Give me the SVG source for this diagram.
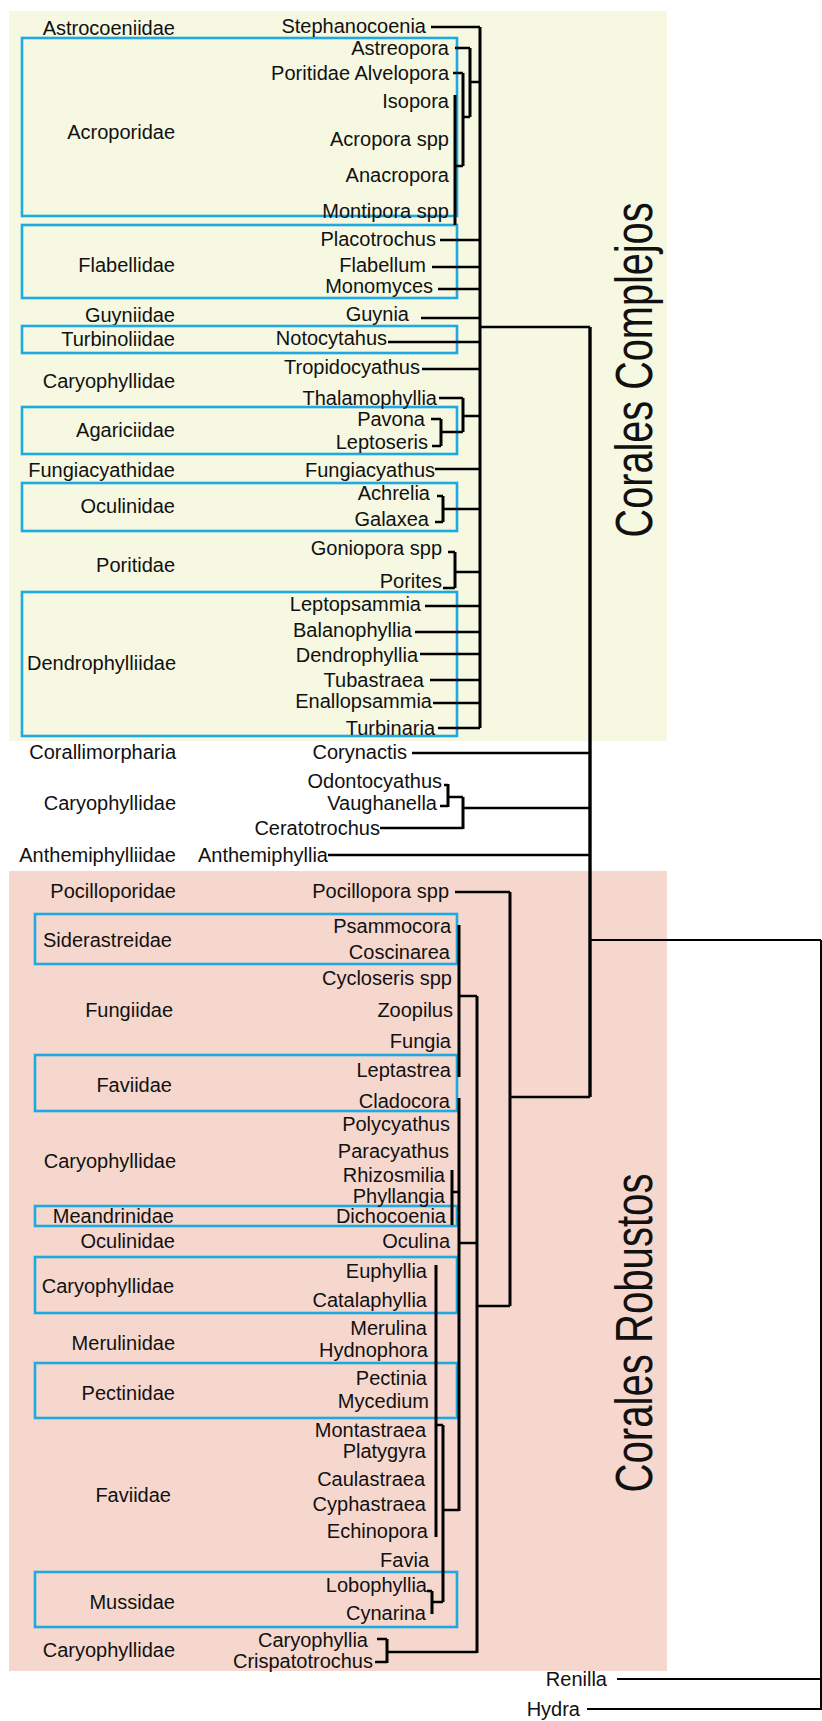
<svg xmlns="http://www.w3.org/2000/svg" width="822" height="1721" viewBox="0 0 822 1721">
<style>
text{font-family:"Liberation Sans",Arial,sans-serif;font-size:20px;fill:#111}
.sp{text-anchor:end}
.fam{text-anchor:end}
.box{fill:none;stroke:#1fa9e1;stroke-width:2.6}
.h{fill:none;stroke:#000;stroke-width:2.4}
.v{fill:none;stroke:#000;stroke-width:3}
.t{fill:none;stroke:#000;stroke-width:2}
.big{font-size:51px;text-anchor:middle}
</style>
<rect x="9" y="11" width="658" height="730" fill="#f6f8e2"/>
<rect x="9" y="871" width="658" height="800" fill="#f6d7cd"/>
<g id="clade-labels">
<text class="big" transform="translate(652,370) rotate(-90)" textLength="335" lengthAdjust="spacingAndGlyphs">Corales Complejos</text>
<text class="big" transform="translate(652,1333) rotate(-90)" textLength="319" lengthAdjust="spacingAndGlyphs">Corales Robustos</text>
</g>
<g id="families">
<g id="f-astrocoeniidae"><text class="fam" x="175" y="35">Astrocoeniidae</text></g>
<g id="f-acroporidae"><rect class="box" x="22" y="38" width="435" height="178"/><text class="fam" x="175" y="139">Acroporidae</text></g>
<g id="f-flabellidae"><rect class="box" x="22" y="225" width="435" height="73"/><text class="fam" x="175" y="272">Flabellidae</text></g>
<g id="f-guyniidae"><text class="fam" x="175" y="322">Guyniidae</text></g>
<g id="f-turbinoliidae"><rect class="box" x="22" y="326" width="435" height="27"/><text class="fam" x="175" y="346">Turbinoliidae</text></g>
<g id="f-caryophyllidae1"><text class="fam" x="175" y="388">Caryophyllidae</text></g>
<g id="f-agariciidae"><rect class="box" x="22" y="407" width="435" height="47"/><text class="fam" x="175" y="437">Agariciidae</text></g>
<g id="f-fungiacyathidae"><text class="fam" x="175" y="477">Fungiacyathidae</text></g>
<g id="f-oculinidae1"><rect class="box" x="22" y="483" width="435" height="48"/><text class="fam" x="175" y="513">Oculinidae</text></g>
<g id="f-poritidae"><text class="fam" x="175" y="572">Poritidae</text></g>
<g id="f-dendrophylliidae"><rect class="box" x="22" y="592" width="435" height="144"/><text class="fam" x="176" y="670">Dendrophylliidae</text></g>
<g id="f-corallimorpharia"><text class="fam" x="176" y="759">Corallimorpharia</text></g>
<g id="f-caryophyllidae2"><text class="fam" x="176" y="810">Caryophyllidae</text></g>
<g id="f-anthemiphylliidae"><text class="fam" x="176" y="862">Anthemiphylliidae</text></g>
<g id="f-pocilloporidae"><text class="fam" x="176" y="898">Pocilloporidae</text></g>
<g id="f-siderastreidae"><rect class="box" x="35" y="914" width="422" height="50"/><text class="fam" x="172" y="947">Siderastreidae</text></g>
<g id="f-fungiidae"><text class="fam" x="173" y="1017">Fungiidae</text></g>
<g id="f-faviidae1"><rect class="box" x="35" y="1055" width="422" height="56"/><text class="fam" x="172" y="1092">Faviidae</text></g>
<g id="f-caryophyllidae3"><text class="fam" x="176" y="1168">Caryophyllidae</text></g>
<g id="f-meandrinidae"><rect class="box" x="35" y="1206" width="422" height="20"/><text class="fam" x="174" y="1223">Meandrinidae</text></g>
<g id="f-oculinidae2"><text class="fam" x="175" y="1248">Oculinidae</text></g>
<g id="f-caryophyllidae4"><rect class="box" x="35" y="1257" width="422" height="56"/><text class="fam" x="174" y="1293">Caryophyllidae</text></g>
<g id="f-merulinidae"><text class="fam" x="175" y="1350">Merulinidae</text></g>
<g id="f-pectinidae"><rect class="box" x="35" y="1363" width="422" height="55"/><text class="fam" x="175" y="1400">Pectinidae</text></g>
<g id="f-faviidae2"><text class="fam" x="171" y="1502">Faviidae</text></g>
<g id="f-mussidae"><rect class="box" x="35" y="1572" width="422" height="55"/><text class="fam" x="175" y="1609">Mussidae</text></g>
<g id="f-caryophyllidae5"><text class="fam" x="175" y="1657">Caryophyllidae</text></g>
</g>
<g id="species">
<g id="n-stephanocoenia"><text class="sp" x="426" y="33">Stephanocoenia</text></g>
<g id="n-astreopora"><text class="sp" x="449" y="55">Astreopora</text></g>
<g id="n-alvelopora"><text class="sp" x="449" y="80">Poritidae Alvelopora</text></g>
<g id="n-isopora"><text class="sp" x="449" y="108">Isopora</text></g>
<g id="n-acropora"><text class="sp" x="449" y="146">Acropora spp</text></g>
<g id="n-anacropora"><text class="sp" x="449" y="182">Anacropora</text></g>
<g id="n-montipora"><text class="sp" x="449" y="218">Montipora spp</text></g>
<g id="n-placotrochus"><text class="sp" x="436" y="246">Placotrochus</text></g>
<g id="n-flabellum"><text class="sp" x="426" y="272">Flabellum</text></g>
<g id="n-monomyces"><text class="sp" x="433" y="293">Monomyces</text></g>
<g id="n-guynia"><text class="sp" x="409" y="321">Guynia</text></g>
<g id="n-notocytahus"><text class="sp" x="387" y="345">Notocytahus</text></g>
<g id="n-tropidocyathus"><text class="sp" x="420" y="374">Tropidocyathus</text></g>
<g id="n-thalamophyllia"><text class="sp" x="437" y="405">Thalamophyllia</text></g>
<g id="n-pavona"><text class="sp" x="425" y="426">Pavona</text></g>
<g id="n-leptoseris"><text class="sp" x="428" y="449">Leptoseris</text></g>
<g id="n-fungiacyathus"><text class="sp" x="435" y="477">Fungiacyathus</text></g>
<g id="n-achrelia"><text class="sp" x="430" y="500">Achrelia</text></g>
<g id="n-galaxea"><text class="sp" x="429" y="526">Galaxea</text></g>
<g id="n-goniopora"><text class="sp" x="442" y="555">Goniopora spp</text></g>
<g id="n-porites"><text class="sp" x="442" y="588">Porites</text></g>
<g id="n-leptopsammia"><text class="sp" x="421" y="611">Leptopsammia</text></g>
<g id="n-balanophyllia"><text class="sp" x="412" y="637">Balanophyllia</text></g>
<g id="n-dendrophyllia"><text class="sp" x="418" y="662">Dendrophyllia</text></g>
<g id="n-tubastraea"><text class="sp" x="424" y="687">Tubastraea</text></g>
<g id="n-enallopsammia"><text class="sp" x="432" y="708">Enallopsammia</text></g>
<g id="n-turbinaria"><text class="sp" x="435" y="735">Turbinaria</text></g>
<g id="n-corynactis"><text class="sp" x="407" y="759">Corynactis</text></g>
<g id="n-odontocyathus"><text class="sp" x="442" y="788">Odontocyathus</text></g>
<g id="n-vaughanella"><text class="sp" x="437" y="810">Vaughanella</text></g>
<g id="n-ceratotrochus"><text class="sp" x="380" y="835">Ceratotrochus</text></g>
<g id="n-anthemiphyllia"><text class="sp" x="328" y="862">Anthemiphyllia</text></g>
<g id="n-pocillopora"><text class="sp" x="449" y="898">Pocillopora spp</text></g>
<g id="n-psammocora"><text class="sp" x="451" y="933">Psammocora</text></g>
<g id="n-coscinarea"><text class="sp" x="450" y="959">Coscinarea</text></g>
<g id="n-cycloseris"><text class="sp" x="452" y="985">Cycloseris spp</text></g>
<g id="n-zoopilus"><text class="sp" x="453" y="1017">Zoopilus</text></g>
<g id="n-fungia"><text class="sp" x="451" y="1048">Fungia</text></g>
<g id="n-leptastrea"><text class="sp" x="451" y="1077">Leptastrea</text></g>
<g id="n-cladocora"><text class="sp" x="450" y="1108">Cladocora</text></g>
<g id="n-polycyathus"><text class="sp" x="450" y="1131">Polycyathus</text></g>
<g id="n-paracyathus"><text class="sp" x="449" y="1158">Paracyathus</text></g>
<g id="n-rhizosmilia"><text class="sp" x="445" y="1182">Rhizosmilia</text></g>
<g id="n-phyllangia"><text class="sp" x="445" y="1203">Phyllangia</text></g>
<g id="n-dichocoenia"><text class="sp" x="446" y="1223">Dichocoenia</text></g>
<g id="n-oculina"><text class="sp" x="450" y="1248">Oculina</text></g>
<g id="n-euphyllia"><text class="sp" x="427" y="1278">Euphyllia</text></g>
<g id="n-catalaphyllia"><text class="sp" x="427" y="1307">Catalaphyllia</text></g>
<g id="n-merulina"><text class="sp" x="427" y="1335">Merulina</text></g>
<g id="n-hydnophora"><text class="sp" x="428" y="1357">Hydnophora</text></g>
<g id="n-pectinia"><text class="sp" x="427" y="1385">Pectinia</text></g>
<g id="n-mycedium"><text class="sp" x="429" y="1408">Mycedium</text></g>
<g id="n-montastraea"><text class="sp" x="426" y="1437">Montastraea</text></g>
<g id="n-platygyra"><text class="sp" x="426" y="1458">Platygyra</text></g>
<g id="n-caulastraea"><text class="sp" x="425" y="1486">Caulastraea</text></g>
<g id="n-cyphastraea"><text class="sp" x="426" y="1511">Cyphastraea</text></g>
<g id="n-echinopora"><text class="sp" x="428" y="1538">Echinopora</text></g>
<g id="n-favia"><text class="sp" x="429" y="1567">Favia</text></g>
<g id="n-lobophyllia"><text class="sp" x="427" y="1592">Lobophyllia</text></g>
<g id="n-cynarina"><text class="sp" x="426" y="1620">Cynarina</text></g>
<g id="n-caryophyllia"><text class="sp" x="368" y="1647">Caryophyllia</text></g>
<g id="n-crispatotrochus"><text class="sp" x="373" y="1668">Crispatotrochus</text></g>
<g id="n-renilla"><text class="sp" x="607" y="1686">Renilla</text></g>
<g id="n-hydra"><text class="sp" x="580" y="1716">Hydra</text></g>
</g>
<g id="connectors">
<path class="h" d="M431 27H480M455 48H470M470 82H480M453 73H463M463 117H470M455 166H463M440 240H480M432 267H480M438 289H480M421 318H480M480 327H590M388 342H480M422 369H480M439 398H463M463 416H480M431 419H441M432 446H441M441 432H463M435 469H480M437 496H443M435 522H443M443 509H480M448 552H455M443 588H455M455 572H480M425 606H480M415 632H480M420 654H480M430 680H480M433 703H480M438 728H480M412 753H590M444 785H448M440 806H448M448 797H463M380 828H463M463 808H590M328 855H590"/>
<path class="v" d="M480 27V728M470 48V117M463 73V166M455 95V225M463 398V432M441 419V446M443 496V522M455 552V588M448 784V807M463 797V829"/>
<path class="v" d="M590 327V1097" style="stroke-width:3.4"/>
<path class="t" d="M590 940H821M821 940V1710M617 1679H821M587 1709H821"/>
<path class="h" d="M455 892H510M510 1097H590M459 996H477M459 1243H477M452 1192H459M476 1306H510M436 1425H443M443 1510H459M427 1591H432M432 1602H443M377 1639H387M375 1662H387M387 1652H477"/>
<path class="v" d="M510 892V1306M459 925V1077M477 996V1653M459 1098V1511M452 1170V1225M436 1265V1537M443 1425V1602M432 1591V1614M387 1639V1663"/>
</g>
</svg>
